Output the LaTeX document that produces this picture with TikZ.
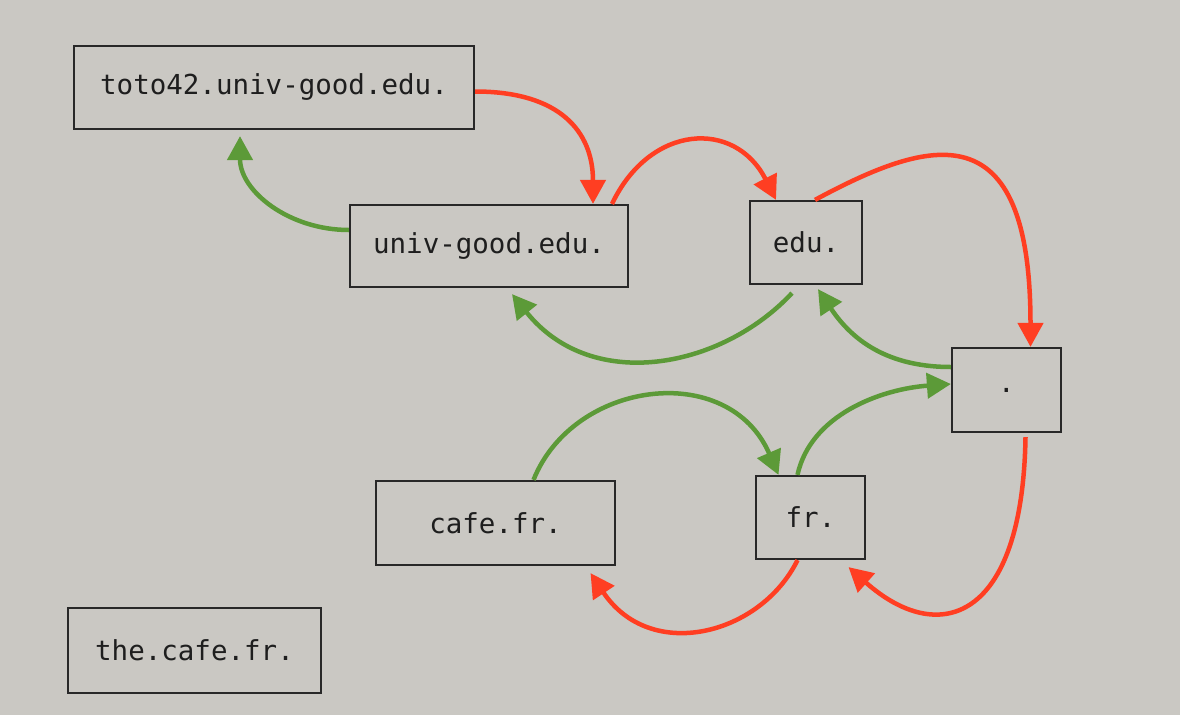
\documentclass[tikz,border=0pt]{standalone}
\usepackage{fontspec}
\setmonofont{DejaVu Sans Mono}
\usetikzlibrary{arrows.meta}
\definecolor{bg}{RGB}{202,200,195}
\definecolor{boxline}{RGB}{40,40,40}
\definecolor{txt}{RGB}{30,30,30}
\definecolor{redarr}{RGB}{255,62,34}
\definecolor{greenarr}{RGB}{92,154,56}
\tikzset{
  dnsbox/.style={draw=boxline, line width=2.2pt, inner sep=0pt, text=txt,
    font=\ttfamily\fontsize{27.5}{32}\selectfont},
  redlink/.style={draw=redarr, line width=4.5pt, -{Triangle[length=24pt,width=25pt]}},
  greenlink/.style={draw=greenarr, line width=4.5pt, -{Triangle[length=24pt,width=25pt]}},
}
\begin{document}
\begin{tikzpicture}[x=1pt,y=-1pt]
\fill[bg] (0,0) rectangle (1180,715);
\useasboundingbox (0,0) rectangle (1180,715);

\node[dnsbox, minimum width=400, minimum height=83] (toto) at (274,87.5) {toto42.univ-good.edu.};
\node[dnsbox, minimum width=278, minimum height=82] (univ) at (489,246) {univ-good.edu.};
\node[dnsbox, minimum width=112, minimum height=83] (edu) at (806,242.5) {edu.};
\node[dnsbox, minimum width=109, minimum height=84] (root) at (1006.5,390) {.};
\node[dnsbox, minimum width=239, minimum height=84] (cafe) at (495.5,523) {cafe.fr.};
\node[dnsbox, minimum width=109, minimum height=83] (fr) at (810.5,517.5) {fr.};
\node[dnsbox, minimum width=253, minimum height=85] (the) at (194.5,650.5) {the.cafe.fr.};

% red (query) arrows
\draw[redlink] ([yshift=-4pt]toto.east) .. controls +(84,0) and +(0,-73) .. ([xshift=104pt]univ.north);
\draw[redlink] ([xshift=123pt]univ.north) .. controls +(38,-80) and +(-41,-81) .. ([xshift=-30pt]edu.north);
\draw[redlink] ([xshift=9pt]edu.north) .. controls +(115,-62) and +(0,-238) .. ([xshift=24pt]root.north);
\draw[redlink] ([xshift=19pt,yshift=-4pt]root.south) .. controls +(-3,185) and +(90,80) .. ([xshift=38pt,yshift=-7pt]fr.south);
\draw[redlink] ([xshift=-13pt]fr.south) .. controls +(-37,75) and +(60,90) .. ([xshift=95pt,yshift=-7pt]cafe.south);

% green (answer) arrows
\draw[greenlink] ([yshift=23pt]root.west) .. controls +(-70,0) and +(30,45) .. ([xshift=12pt,yshift=-4pt]edu.south);
\draw[greenlink] ([xshift=-14pt,yshift=-8pt]edu.south) .. controls +(-70,75) and +(80,100) .. ([xshift=23pt,yshift=-6pt]univ.south);
\draw[greenlink] ([yshift=16pt]univ.west) .. controls +(-60,0) and +(0,55) .. ([xshift=-34pt,yshift=-6pt]toto.south);
\draw[greenlink] ([xshift=38pt]cafe.north) .. controls +(40,-100) and +(-50,-115) .. ([xshift=-32pt]fr.north);
\draw[greenlink] ([xshift=-13pt]fr.north) .. controls +(13,-60) and +(-70,5) .. ([yshift=6pt]root.west);
\end{tikzpicture}
\end{document}
